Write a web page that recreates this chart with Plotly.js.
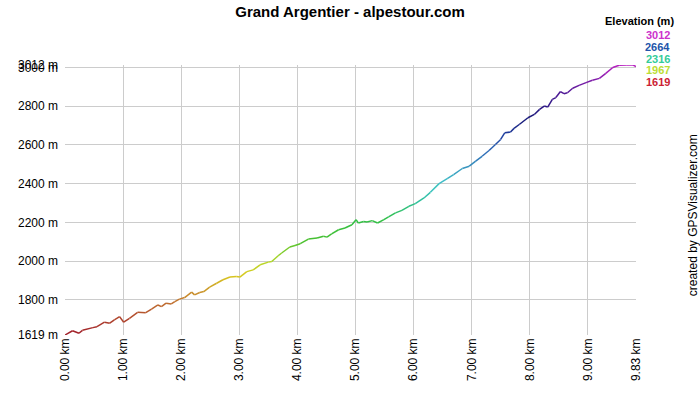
<!DOCTYPE html>
<html>
<head>
<meta charset="utf-8">
<script src="https://cdn.plot.ly/plotly-3.0.1.min.js"></script>
<style>html,body{margin:0;padding:0;background:#fff;}#chart{width:700px;height:400px;}</style>
</head>
<body>
<div id="chart"></div>
<script>
// Distance (km) and elevation (m)
const distanceKm = [0.00,0.13,0.24,0.30,0.48,0.55,0.68,0.77,0.85,0.94,1.01,1.11,1.25,1.39,1.49,1.60,1.66,1.74,1.83,1.89,1.97,2.06,2.18,2.23,2.32,2.39,2.49,2.61,2.72,2.84,2.95,3.01,3.13,3.24,3.36,3.50,3.56,3.67,3.73,3.87,3.96,4.05,4.19,4.34,4.45,4.51,4.59,4.71,4.82,4.94,5.01,5.05,5.14,5.20,5.29,5.38,5.49,5.57,5.69,5.80,5.92,6.03,6.18,6.29,6.44,6.58,6.69,6.84,6.96,7.07,7.18,7.30,7.41,7.50,7.57,7.67,7.73,7.82,7.97,8.08,8.17,8.25,8.31,8.39,8.45,8.53,8.59,8.65,8.74,8.85,8.97,9.08,9.20,9.31,9.43,9.54,9.66,9.78,9.83];
const elevationM = [1619,1641,1628,1643,1657,1662,1685,1680,1697,1714,1685,1705,1736,1734,1753,1774,1765,1783,1779,1791,1804,1812,1840,1826,1838,1843,1866,1886,1904,1918,1921,1918,1946,1955,1981,1995,1998,2028,2042,2073,2081,2090,2114,2119,2128,2124,2141,2162,2171,2188,2214,2197,2205,2202,2209,2197,2214,2228,2249,2262,2283,2297,2326,2355,2400,2426,2447,2478,2490,2516,2541,2571,2602,2628,2662,2666,2685,2705,2740,2757,2783,2800,2795,2835,2844,2875,2864,2869,2892,2907,2921,2933,2943,2969,2999,3011,3012,3012,3004];

const xTickVals = [0,1,2,3,4,5,6,7,8,9,9.83];
const xTickText = ["0.00 km","1.00 km","2.00 km","3.00 km","4.00 km","5.00 km","6.00 km","7.00 km","8.00 km","9.00 km","9.83 km"];
const yTickVals = [1619,1800,2000,2200,2400,2600,2800,3000,3012];
const yTickText = ["1619 m","1800 m","2000 m","2200 m","2400 m","2600 m","2800 m","3000 m","3012 m"];

const legendValues = [3012,2664,2316,1967,1619];
const legendColors = ["#cc33cc","#2255aa","#33cc99","#bbdd33","#cc2233"];

const eMin = 1619, eMax = 3012;
const colorStops = [
  [0.00,"#a01c2a"],[0.12,"#c07030"],[0.22,"#d8c820"],[0.27,"#b8d828"],
  [0.35,"#48c030"],[0.43,"#30c048"],[0.50,"#30c0a0"],[0.56,"#40c4c8"],
  [0.67,"#3070b8"],[0.74,"#2040a0"],[0.80,"#181878"],[0.88,"#401890"],[1.00,"#b820c0"]
];
function hex2rgb(h){return [parseInt(h.substr(1,2),16),parseInt(h.substr(3,2),16),parseInt(h.substr(5,2),16)];}
function colorAt(v){
  const t = Math.max(0,Math.min(1,(v-eMin)/(eMax-eMin)));
  for(let i=1;i<colorStops.length;i++){
    if(t<=colorStops[i][0]){
      const a=colorStops[i-1], b=colorStops[i];
      const f=(t-a[0])/(b[0]-a[0]);
      const ca=hex2rgb(a[1]), cb=hex2rgb(b[1]);
      return "rgb("+ca.map((c,k)=>Math.round(c+(cb[k]-c)*f)).join(",")+")";
    }
  }
  return colorStops[colorStops.length-1][1];
}

const traces = [];
for(let i=0;i<distanceKm.length-1;i++){
  traces.push({
    type:"scatter", mode:"lines",
    x:[distanceKm[i],distanceKm[i+1]],
    y:[elevationM[i],elevationM[i+1]],
    line:{color:colorAt((elevationM[i]+elevationM[i+1])/2),width:1.5},
    hoverinfo:"skip", showlegend:false
  });
}

const annotations = [{
  text:"<b>Elevation (m)</b>", xref:"paper", yref:"paper",
  x:1.07, y:1.163, xanchor:"right", yanchor:"middle", showarrow:false,
  font:{family:"Liberation Sans, Arial, sans-serif", size:11, color:"#000"}
},{
  text:"created by GPSVisualizer.com", xref:"paper", yref:"paper",
  x:1.10, y:0.444, xanchor:"center", yanchor:"middle", textangle:-90, showarrow:false,
  font:{family:"Liberation Sans, Arial, sans-serif", size:12, color:"#000"}
}];
legendValues.forEach((v,i)=>{
  annotations.push({
    text:"<b>"+v+"</b>", xref:"paper", yref:"paper",
    x:1.063, y:1.111 - i*0.0435, xanchor:"right", yanchor:"middle", showarrow:false,
    font:{family:"Liberation Sans, Arial, sans-serif", size:11, color:legendColors[i]}
  });
});

const layout = {
  width:700, height:400,
  margin:{l:65, r:64, t:65, b:65},
  paper_bgcolor:"#fff", plot_bgcolor:"#fff",
  title:{text:"<b>Grand Argentier - alpestour.com</b>", x:0.5, xanchor:"center", y:0.97, yanchor:"middle",
    font:{family:"Liberation Sans, Arial, sans-serif", size:15, color:"#000"}},
  xaxis:{range:[0,9.83], tickvals:xTickVals, ticktext:xTickText, tickangle:-90,
    showgrid:true, gridcolor:"#cccccc", gridwidth:1, zeroline:false, showline:false, ticks:"",
    tickfont:{family:"Liberation Sans, Arial, sans-serif", size:12, color:"#000"}, fixedrange:true},
  yaxis:{range:[1619,3012], tickvals:yTickVals, ticktext:yTickText,
    showgrid:true, gridcolor:"#cccccc", gridwidth:1, zeroline:false, showline:false, ticks:"",
    ticklabelstandoff:6,
    tickfont:{family:"Liberation Sans, Arial, sans-serif", size:12, color:"#000"}, fixedrange:true},
  annotations:annotations
};

Plotly.newPlot("chart", traces, layout, {displayModeBar:false, staticPlot:true});
</script>
</body>
</html>
